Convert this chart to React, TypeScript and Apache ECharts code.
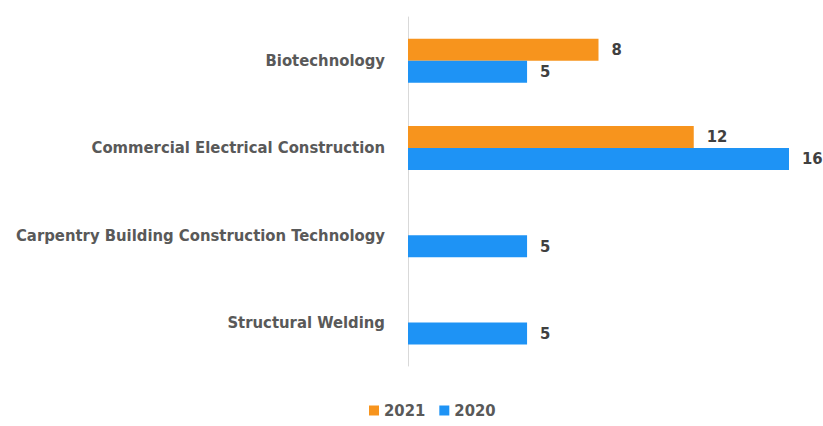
import React, { useEffect, useRef } from "react";
import * as echarts from "echarts";

const categories = [
  "Biotechnology",
  "Commercial Electrical Construction",
  "Carpentry Building Construction Technology",
  "Structural Welding",
];
const values2021: (number | null)[] = [8, 12, null, null];
const values2020: number[] = [5, 16, 5, 5];

const FONT = "'DejaVu Sans Condensed', 'Liberation Sans Narrow', sans-serif";

export default function App() {
  const ref = useRef<HTMLDivElement>(null);
  useEffect(() => {
    document.body.style.margin = "0";
    if (!ref.current) return;
    const chart = echarts.init(ref.current, undefined, { renderer: "svg" });
    const valueLabel = {
      show: true,
      position: "right" as const,
      distance: 13,
      color: "#404040",
      fontFamily: FONT,
      fontWeight: "bold" as const,
      fontSize: 16.5,
    };
    chart.setOption({
      animation: false,
      grid: { left: 408, top: 17, bottom: 60, right: 34, containLabel: false },
      legend: {
        bottom: 2,
        left: 364,
        icon: "rect",
        itemWidth: 10,
        itemHeight: 10,
        itemGap: 14,
        textStyle: { fontFamily: FONT, fontSize: 16.5, color: "#595959", fontWeight: 600 },
        data: ["2021", "2020"],
      },
      xAxis: {
        type: "value",
        min: 0,
        max: 16,
        show: false,
      },
      yAxis: {
        type: "category",
        data: categories,
        inverse: true,
        axisLine: { show: true, lineStyle: { color: "#d9d9d9", width: 1 } },
        axisTick: { show: false },
        axisLabel: {
          margin: 23,
          fontFamily: FONT,
          fontSize: 16.5,
          fontWeight: 600,
          color: "#595959",
        },
      },
      series: [
        {
          name: "2021",
          type: "bar",
          data: values2021,
          barWidth: 22,
          barGap: "0%",
          itemStyle: { color: "#F7941D" },
          label: valueLabel,
        },
        {
          name: "2020",
          type: "bar",
          data: values2020,
          barWidth: 22,
          barGap: "0%",
          itemStyle: { color: "#1E93F5" },
          label: valueLabel,
        },
      ],
    });
    return () => chart.dispose();
  }, []);
  return <div ref={ref} style={{ width: 823, height: 426 }} />;
}
